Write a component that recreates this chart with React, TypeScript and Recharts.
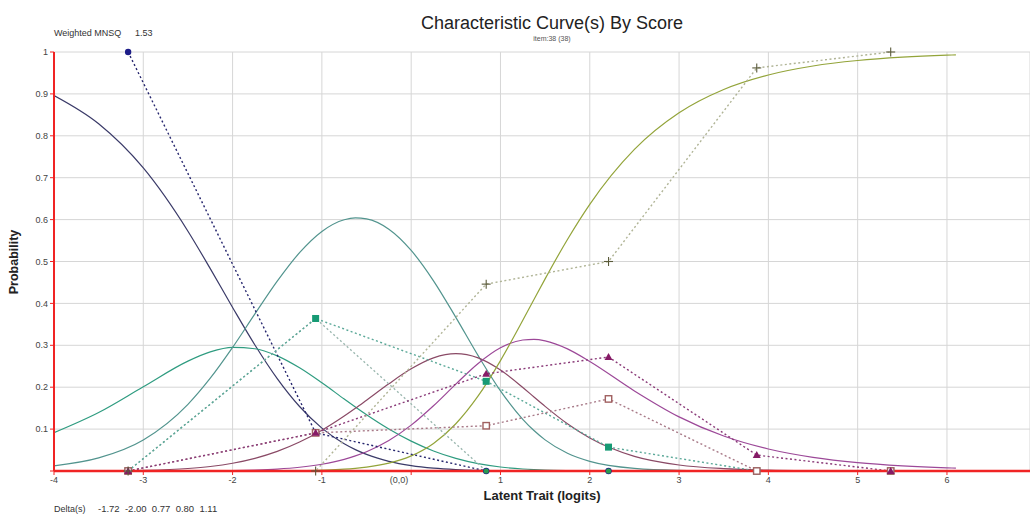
import React from 'react';
import { LineChart, Line, XAxis, YAxis, CartesianGrid } from 'recharts';

// model curves at these logit values
const theta = [-4, -3.5, -3, -2.5, -2.25, -2, -1.75, -1.5, -1.25, -1, -0.75, -0.625, -0.5, -0.25, 0, 0.25, 0.5, 0.75, 1, 1.25, 1.375, 1.5, 1.75, 2, 2.5, 3, 3.5, 4, 4.5, 5, 5.5, 6, 6.1];
const pCat0 = [0.896, 0.8286, 0.7232, 0.5723, 0.483, 0.3903, 0.3007, 0.2205, 0.1539, 0.1024, 0.0651, 0.0511, 0.0396, 0.0231, 0.0128, 0.0067, 0.0033, 0.0015, 0.0006, 0.0002, 0.0001, 0.0001, 0, 0, 0, 0, 0, 0, 0, 0, 0, 0, 0];
const pCat1 = [0.0916, 0.1397, 0.2011, 0.2623, 0.2843, 0.295, 0.2918, 0.2747, 0.2462, 0.2104, 0.1718, 0.1528, 0.1343, 0.1003, 0.0713, 0.0478, 0.0301, 0.0176, 0.0095, 0.0048, 0.0033, 0.0022, 0.001, 0.0004, 0.0001, 0, 0, 0, 0, 0, 0, 0, 0];
const pCat2 = [0.0124, 0.0312, 0.074, 0.1591, 0.2214, 0.295, 0.3748, 0.453, 0.5211, 0.5718, 0.5997, 0.6041, 0.6018, 0.5771, 0.5265, 0.4539, 0.3667, 0.2753, 0.1913, 0.1234, 0.0965, 0.0743, 0.0423, 0.023, 0.0062, 0.0015, 0.0004, 0.0001, 0, 0, 0, 0, 0];
const pCat3 = [0.0001, 0.0004, 0.0017, 0.006, 0.0108, 0.0185, 0.0302, 0.0468, 0.0691, 0.0974, 0.1312, 0.1497, 0.169, 0.2081, 0.2438, 0.2699, 0.2799, 0.2699, 0.2409, 0.1994, 0.1767, 0.1542, 0.1127, 0.0787, 0.0349, 0.0143, 0.0056, 0.0021, 0.0008, 0.0003, 0.0001, 0, 0];
const pCat4 = [0, 0, 0, 0.0002, 0.0005, 0.0011, 0.0024, 0.0047, 0.0089, 0.0161, 0.0278, 0.036, 0.0461, 0.0728, 0.1095, 0.1557, 0.2074, 0.2567, 0.2941, 0.3126, 0.314, 0.3105, 0.2914, 0.2614, 0.1912, 0.1292, 0.0834, 0.0525, 0.0326, 0.02, 0.0123, 0.0075, 0.0068];
const pCat5 = [0, 0, 0, 0, 0, 0.0001, 0.0001, 0.0003, 0.0008, 0.002, 0.0043, 0.0064, 0.0092, 0.0187, 0.0361, 0.0659, 0.1127, 0.1791, 0.2635, 0.3596, 0.4093, 0.4586, 0.5526, 0.6365, 0.7676, 0.855, 0.9106, 0.9452, 0.9666, 0.9797, 0.9877, 0.9925, 0.9932];

// observed proportions per score group
const obsTheta = [-3.17, -1.07, 0.84, 2.21, 3.87, 5.37];
const obsCat0 = [1.0, 0.091, 0, 0, 0, 0];
const obsCat1 = [0, 0.364, 0, 0, 0, 0];
const obsCat2 = [0, 0.364, 0.214, 0.057, 0, 0];
const obsCat3 = [0, 0.091, 0.108, 0.172, 0, 0];
const obsCat4 = [0, 0.091, 0.232, 0.272, 0.038, 0];
const obsCat5 = [0, 0, 0.446, 0.5, 0.962, 1.0];

const xTicks = [-4, -3, -2, -1, 0, 1, 2, 3, 4, 5, 6];
const yTicks = [0, 0.1, 0.2, 0.3, 0.4, 0.5, 0.6, 0.7, 0.8, 0.9, 1];
const deltas = ['-1.72', '-2.00', '0.77', '0.80', '1.11'];
const weightedMnsq = '1.53';

const curves = [pCat0, pCat1, pCat2, pCat3, pCat4, pCat5];
const observed = [obsCat0, obsCat1, obsCat2, obsCat3, obsCat4, obsCat5];
const curveColors = ['#3a3a68', '#2f9c80', '#52948e', '#8a4a66', '#9c4898', '#93a43a'];
const obsColors = ['#26266e', '#9cb8b0', '#5aa898', '#a87a88', '#8a3a78', '#b0b496'];
const markerColors = ['#1c1c88', '#2a9a50', '#169a74', '#a06060', '#861a66', '#5a5a3a'];
const markerKinds = ['circle', 'smallCircle', 'square', 'openSquare', 'triangle', 'plus'];

const RED = '#f02424';
const FONT = '"Liberation Sans", Arial, sans-serif';

const toRows = (xs: number[], ys: number[]) => xs.map((x, i) => ({ x, y: ys[i] }));

function Marker({ cx, cy, kind, color }: { cx: number; cy: number; kind: string; color: string }) {
  if (cx == null || cy == null) return null;
  switch (kind) {
    case 'circle':
      return <circle cx={cx} cy={cy} r={3.2} fill={color} />;
    case 'smallCircle':
      return <circle cx={cx} cy={cy} r={2.6} fill={color} />;
    case 'square':
      return <rect x={cx - 3.5} y={cy - 3.5} width={7} height={7} fill={color} />;
    case 'openSquare':
      return <rect x={cx - 3.2} y={cy - 3.2} width={6.4} height={6.4} fill="#fff" stroke={color} strokeWidth={1.4} />;
    case 'triangle':
      return <polygon points={`${cx},${cy - 4} ${cx + 4},${cy + 3} ${cx - 4},${cy + 3}`} fill={color} />;
    default:
      return (
        <g stroke={color} strokeWidth={1.1}>
          <line x1={cx - 4.5} y1={cy} x2={cx + 4.5} y2={cy} />
          <line x1={cx} y1={cy - 4.5} x2={cx} y2={cy + 4.5} />
        </g>
      );
  }
}

const XTick = (props: any) => {
  const { x, y, payload } = props;
  const v = payload.value;
  const isZero = v === 0;
  return (
    <text x={isZero ? x - 3 : x} y={y} dy="0.71em" textAnchor={isZero ? 'end' : 'middle'} fontSize={9} fill="#444" fontFamily={FONT}>
      {isZero ? '(0,0)' : String(v)}
    </text>
  );
};

export default function App() {
  return (
    <div style={{ position: 'absolute', left: 0, top: 0, width: 1030, height: 515, background: '#fff', fontFamily: FONT }}>
      <LineChart width={1030} height={515} margin={{ top: 52, right: 0, left: 0, bottom: 0 }}>
        <CartesianGrid stroke="#d6d6d6" strokeWidth={1} />
        <XAxis
          type="number"
          dataKey="x"
          domain={[-4, 6.93]}
          ticks={xTicks}
          allowDataOverflow
          height={44}
          axisLine={{ stroke: RED, strokeWidth: 2.5 }}
          tickLine={{ stroke: RED }}
          tickSize={4}
          tick={<XTick />}
        />
        <YAxis
          type="number"
          domain={[0, 1]}
          ticks={yTicks}
          width={54}
          axisLine={{ stroke: RED, strokeWidth: 2 }}
          tickLine={{ stroke: RED }}
          tickSize={4}
          tickFormatter={(v: number) => (v === 0 ? '' : String(Math.round(v * 10) / 10))}
          tick={{ fontSize: 9, fill: '#444', fontFamily: FONT }}
        />
        {curves.map((ys, k) => (
          <Line
            key={`curve${k}`}
            data={toRows(theta, ys)}
            dataKey="y"
            type="monotone"
            stroke={curveColors[k]}
            strokeWidth={1.2}
            dot={false}
            activeDot={false}
            isAnimationActive={false}
          />
        ))}
        {observed.map((ys, k) => (
          <Line
            key={`obs${k}`}
            data={toRows(obsTheta, ys)}
            dataKey="y"
            type="linear"
            stroke={obsColors[k]}
            strokeWidth={1.4}
            strokeDasharray="2 2.5"
            dot={(p: any) => <Marker key={`m${k}-${p.index}`} cx={p.cx} cy={p.cy} kind={markerKinds[k]} color={markerColors[k]} />}
            activeDot={false}
            isAnimationActive={false}
          />
        ))}
      </LineChart>
      <svg width={1030} height={515} style={{ position: 'absolute', left: 0, top: 0, pointerEvents: 'none' }} fontFamily={FONT}>
        <text x={552} y={29} textAnchor="middle" fontSize={18} fill="#222">Characteristic Curve(s) By Score</text>
        <text x={552} y={41} textAnchor="middle" fontSize={7} fill="#555">item:38 (38)</text>
        <text x={54} y={36} fontSize={9} fill="#333">Weighted MNSQ</text>
        <text x={135} y={36} fontSize={9} fill="#333">{weightedMnsq}</text>
        <text x={18} y={262} fontSize={12.5} fontWeight="bold" fill="#222" textAnchor="middle" transform="rotate(-90 18 262)">Probability</text>
        <text x={542} y={500} fontSize={13} fontWeight="bold" fill="#222" textAnchor="middle">Latent Trait (logits)</text>
        <text x={54} y={512} fontSize={9} fill="#333">Delta(s)</text>
        <text x={98} y={512} fontSize={9.5} fill="#333" style={{ whiteSpace: 'pre' }}>{deltas.join('  ')}</text>
      </svg>
    </div>
  );
}
